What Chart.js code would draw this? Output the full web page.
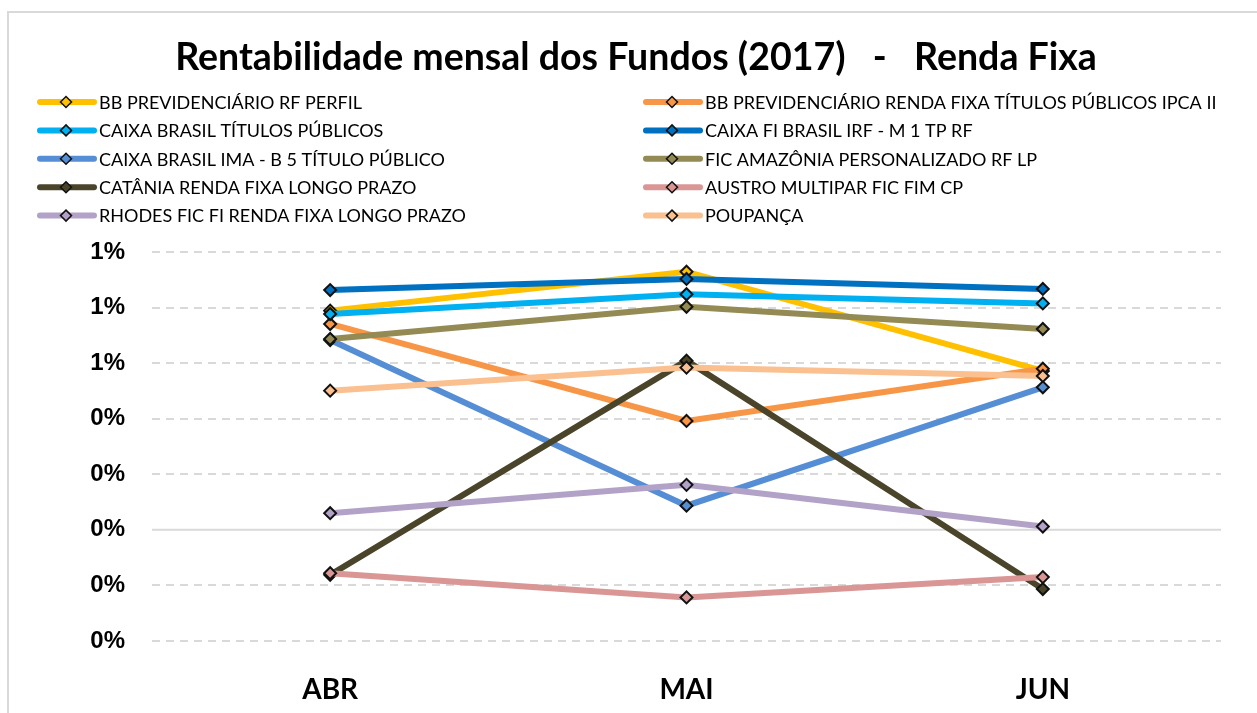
<!DOCTYPE html>
<html>
<head>
<meta charset="utf-8">
<script src="https://cdn.jsdelivr.net/npm/chart.js@4/dist/chart.umd.min.js"></script>
<style>
  body { margin: 0; background: #fff; }
  #wrap { position: relative; width: 1257px; height: 713px; overflow: hidden; }
  #frame { position: absolute; left: 7px; top: 11px; width: 1300px; height: 800px;
           border: 2px solid #d9d9d9; pointer-events: none; }
</style>
</head>
<body>
<div id="wrap">
  <div id="frame"></div>
  <canvas id="chart" width="1257" height="713"></canvas>
</div>
<script>
const chartTitle = "Rentabilidade mensal dos Fundos (2017)   -   Renda Fixa";
const months = ["ABR", "MAI", "JUN"];

const seriesNames = [
  "BB PREVIDENCIÁRIO RF PERFIL",
  "BB PREVIDENCIÁRIO RENDA FIXA TÍTULOS PÚBLICOS IPCA II",
  "CAIXA BRASIL TÍTULOS PÚBLICOS",
  "CAIXA FI BRASIL IRF - M 1 TP RF",
  "CAIXA BRASIL IMA - B 5 TÍTULO PÚBLICO",
  "FIC AMAZÔNIA PERSONALIZADO RF LP",
  "CATÂNIA RENDA FIXA LONGO PRAZO",
  "AUSTRO MULTIPAR FIC FIM CP",
  "RHODES FIC FI RENDA FIXA LONGO PRAZO",
  "POUPANÇA"
];

// monthly return, in %
const bbPerfil = [0.789, 0.929, 0.572];
const bbIpca = [0.741, 0.392, 0.580];
const caixaTp = [0.777, 0.848, 0.815];
const caixaIrf = [0.863, 0.903, 0.867];
const caixaIma = [0.683, 0.087, 0.513];
const amazonia = [0.687, 0.803, 0.723];
const catania = [-0.162, 0.609, -0.213];
const austro = [-0.156, -0.243, -0.170];
const rhodes = [0.060, 0.162, 0.012];
const poupanca = [0.501, 0.584, 0.554];

const seriesValues = [bbPerfil, bbIpca, caixaTp, caixaIrf, caixaIma, amazonia, catania, austro, rhodes, poupanca];

const colors = ["#FFC000", "#F79646", "#00B0F0", "#0070C0", "#558ED5",
                "#948A54", "#4A452A", "#D99694", "#B3A2C7", "#FAC090"];

const datasets = seriesNames.map((name, i) => ({
  label: name,
  data: seriesValues[i],
  borderColor: colors[i],
  backgroundColor: colors[i],
  borderWidth: 6,
  tension: 0,
  pointStyle: "rectRot",
  pointRadius: 6,
  pointHoverRadius: 6,
  pointBackgroundColor: colors[i],
  pointBorderColor: "#111",
  pointBorderWidth: 2,
  order: seriesNames.length - i
}));

// solid zero line (the other grid lines are dashed)
const zeroLine = {
  id: "zeroLine",
  beforeDatasetsDraw(chart) {
    const { ctx, chartArea } = chart;
    const y = chart.scales.y.getPixelForValue(0);
    ctx.save();
    ctx.strokeStyle = "#d9d9d9";
    ctx.lineWidth = 2;
    ctx.beginPath();
    ctx.moveTo(chartArea.left, y);
    ctx.lineTo(chartArea.right, y);
    ctx.stroke();
    ctx.restore();
  }
};

// title + two-column legend like the Excel one
const headerAndLegend = {
  id: "headerAndLegend",
  afterDraw(chart) {
    const ctx = chart.ctx;
    ctx.save();
    ctx.fillStyle = "#000";
    ctx.font = "bold 37.5px Lato, sans-serif";
    ctx.textAlign = "center";
    ctx.textBaseline = "middle";
    ctx.fillText(chartTitle, 636, 58);

    const colX = [38, 644];
    chart.data.datasets.forEach((ds, i) => {
      const x0 = colX[i % 2];
      const y = 102 + Math.floor(i / 2) * 28.4;
      ctx.strokeStyle = ds.borderColor;
      ctx.lineWidth = 6;
      ctx.lineCap = "round";
      ctx.beginPath();
      ctx.moveTo(x0 + 2, y);
      ctx.lineTo(x0 + 56, y);
      ctx.stroke();
      const cx = x0 + 28, r = 5.5;
      ctx.beginPath();
      ctx.moveTo(cx, y - r);
      ctx.lineTo(cx + r, y);
      ctx.lineTo(cx, y + r);
      ctx.lineTo(cx - r, y);
      ctx.closePath();
      ctx.fillStyle = ds.borderColor;
      ctx.fill();
      ctx.strokeStyle = "#111";
      ctx.lineWidth = 1.5;
      ctx.stroke();
      ctx.fillStyle = "#000";
      ctx.font = "18px Lato, sans-serif";
      ctx.textBaseline = "middle";
      ctx.textAlign = "left";
      ctx.fillText(ds.label, x0 + 61, y + 1);
    });
    ctx.restore();
  }
};

new Chart(document.getElementById("chart"), {
  type: "line",
  data: { labels: months, datasets: datasets },
  plugins: [zeroLine, headerAndLegend],
  options: {
    responsive: false,
    animation: false,
    layout: { padding: { left: 0, right: 36, top: 252, bottom: 0 } },
    plugins: {
      legend: { display: false },
      tooltip: { enabled: false },
      title: { display: false }
    },
    scales: {
      x: {
        offset: true,
        grid: { display: false },
        border: { display: false },
        ticks: {
          color: "#000",
          padding: 24,
          font: { family: "Lato", size: 28, weight: "bold" }
        },
        afterFit(scale) { scale.height = 72; }
      },
      y: {
        min: -0.4,
        max: 1.0,
        border: { display: false, dash: [8, 6] },
        grid: {
          drawTicks: false,
          lineWidth: 2,
          color: (c) => (c.tick && Math.abs(c.tick.value) < 1e-9 ? "rgba(0,0,0,0)" : "#d9d9d9")
        },
        ticks: {
          stepSize: 0.2,
          color: "#000",
          padding: 27,
          font: { family: "Liberation Sans", size: 24, weight: "bold" },
          callback: (v) => Math.abs(Math.round(v)) + "%"
        },
        afterFit(scale) { scale.width = 152; }
      }
    }
  }
});
</script>
</body>
</html>
